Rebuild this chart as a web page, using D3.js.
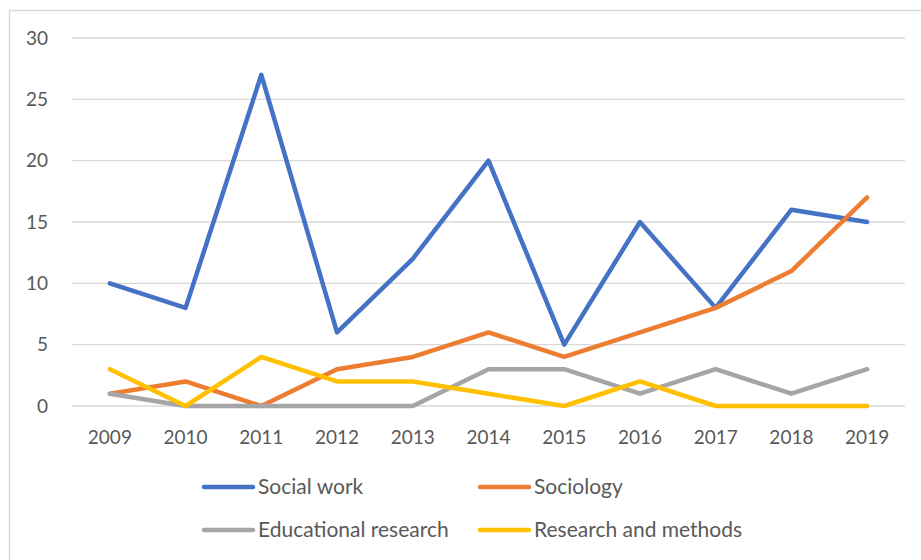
<!DOCTYPE html>
<html>
<head>
<meta charset="utf-8">
<script src="https://cdn.jsdelivr.net/npm/d3@7"></script>
<style>
  body { margin: 0; background: #fff; }
  svg { display: block; font-family: Lato, "Open Sans", sans-serif; }
</style>
</head>
<body>
<script>
// data
const years = ["2009", "2010", "2011", "2012", "2013", "2014", "2015", "2016", "2017", "2018", "2019"];
const socialWork = [10, 8, 27, 6, 12, 20, 5, 15, 8, 16, 15];
const sociology = [1, 2, 0, 3, 4, 6, 4, 6, 8, 11, 17];
const educational = [1, 0, 0, 0, 0, 3, 3, 1, 3, 1, 3];
const research = [3, 0, 4, 2, 2, 1, 0, 2, 0, 0, 0];
const yTicks = [0, 5, 10, 15, 20, 25, 30];

const series = [
  { name: "Social work", values: socialWork, color: "#4472C4" },
  { name: "Sociology", values: sociology, color: "#ED7D31" },
  { name: "Educational research", values: educational, color: "#A5A5A5" },
  { name: "Research and methods", values: research, color: "#FFC000" }
];

const w = 921;
const h = 560;
const plotLeft = 72, plotRight = 905, plotTop = 38, plotBottom = 406;

const svg = d3.select("body").append("svg")
  .attr("width", w)
  .attr("height", h);

// chart border
svg.append("rect")
  .attr("x", 9.5).attr("y", 10.5)
  .attr("width", w).attr("height", h)
  .attr("fill", "none")
  .attr("stroke", "#d9d9d9")
  .attr("stroke-width", 1.5);

const x = d3.scaleBand().domain(years).range([plotLeft, plotRight]);
const y = d3.scaleLinear().domain([0, 30]).range([plotBottom, plotTop]);

// gridlines
svg.append("g")
  .selectAll("line")
  .data(yTicks)
  .join("line")
  .attr("x1", plotLeft).attr("x2", plotRight)
  .attr("y1", d => y(d)).attr("y2", d => y(d))
  .attr("stroke", "#d9d9d9")
  .attr("stroke-width", 1.3);

// y axis labels
const yAxis = d3.axisLeft(y).tickValues(yTicks).tickSize(0).tickPadding(0);
svg.append("g")
  .attr("transform", `translate(48,0)`)
  .call(yAxis)
  .call(g => g.select(".domain").remove())
  .call(g => g.selectAll("text")
    .attr("fill", "#595959")
    .style("font-size", "19px")
    .style("font-family", "Lato, sans-serif"));

// x axis labels
const xAxis = d3.axisBottom(x).tickSize(0).tickPadding(0);
svg.append("g")
  .attr("transform", `translate(0,430)`)
  .call(xAxis)
  .call(g => g.select(".domain").remove())
  .call(g => g.selectAll("text")
    .attr("fill", "#595959")
    .style("font-size", "19px")
    .style("font-family", "Lato, sans-serif"));

// lines
const line = d3.line()
  .x((d, i) => x(years[i]) + x.bandwidth() / 2)
  .y(d => y(d));

svg.append("g")
  .selectAll("path")
  .data(series)
  .join("path")
  .attr("d", d => line(d.values))
  .attr("fill", "none")
  .attr("stroke", d => d.color)
  .attr("stroke-width", 4.5)
  .attr("stroke-linejoin", "round")
  .attr("stroke-linecap", "round");

// legend
const legendPos = [[202, 487], [478, 487], [202, 530], [478, 530]];
const legend = svg.append("g")
  .selectAll("g")
  .data(series)
  .join("g")
  .attr("transform", (d, i) => `translate(${legendPos[i][0]},${legendPos[i][1]})`);

legend.append("line")
  .attr("x1", 2).attr("x2", 51)
  .attr("stroke", d => d.color)
  .attr("stroke-width", 4.5)
  .attr("stroke-linecap", "round");

legend.append("text")
  .attr("x", 56)
  .attr("dy", "0.35em")
  .attr("fill", "#595959")
  .style("font-size", "21px")
  .text(d => d.name);
</script>
</body>
</html>
